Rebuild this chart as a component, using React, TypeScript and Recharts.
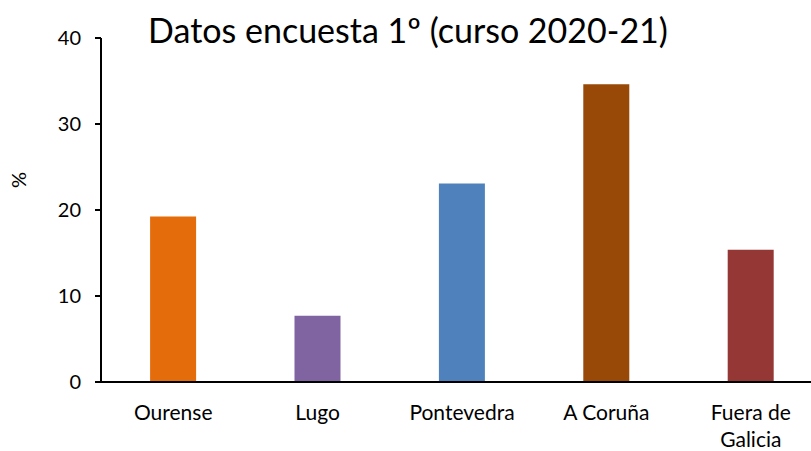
import { BarChart, Bar, XAxis, YAxis, Cell, Label } from "recharts";

const categories = ["Ourense", "Lugo", "Pontevedra", "A Coruña", "Fuera de Galicia"];
const percentages = [19.23, 7.69, 23.08, 34.62, 15.38];
const barColors = ["#E46C0A", "#8064A2", "#4F81BD", "#984807", "#953735"];
const yTicks = [0, 10, 20, 30, 40];

const data = categories.map((name, i) => ({ name, value: percentages[i] }));

const FONT = "Lato, 'Open Sans', sans-serif";

// greedy word wrap, ~10 chars per line like the original
function wrapLabel(label: string, max = 10) {
  const lines: string[] = [];
  let cur = "";
  for (const w of label.split(" ")) {
    const next = cur ? cur + " " + w : w;
    if (next.length > max && cur) {
      lines.push(cur);
      cur = w;
    } else {
      cur = next;
    }
  }
  if (cur) lines.push(cur);
  return lines;
}

function CategoryTick({ x, y, payload }: { x?: number; y?: number; payload?: { value: string } }) {
  const lines = wrapLabel(payload?.value ?? "");
  return (
    <text
      x={x}
      y={(y ?? 0) + 30}
      textAnchor="middle"
      fontSize={21}
      fontFamily={FONT}
      fill="#000"
    >
      {lines.map((l, i) => (
        <tspan key={i} x={x} dy={i === 0 ? 0 : 27}>
          {l}
        </tspan>
      ))}
    </text>
  );
}

function PercentLabel({ viewBox }: { viewBox?: { x: number; y: number; height: number } }) {
  const cx = 18;
  const cy = (viewBox?.y ?? 0) + (viewBox?.height ?? 0) / 2 - 30;
  return (
    <text
      x={cx}
      y={cy}
      transform={`rotate(-90 ${cx} ${cy})`}
      textAnchor="middle"
      dominantBaseline="central"
      fontSize={20}
      fontFamily={FONT}
      fill="#000"
    >
      %
    </text>
  );
}

export default function App() {
  return (
    <div
      style={{
        position: "absolute",
        left: 0,
        top: 0,
        width: 811,
        height: 451,
        overflow: "hidden",
        background: "#fff",
      }}
    >
      <div
        style={{
          position: "absolute",
          left: 0,
          width: 816,
          top: 10,
          textAlign: "center",
          fontFamily: FONT,
          fontSize: 34,
          lineHeight: "40px",
          color: "#000",
        }}
      >
        Datos encuesta 1º (curso 2020-21)
      </div>
      <BarChart
        width={830}
        height={451}
        data={data}
        margin={{ top: 38, right: 7, left: 0, bottom: 0 }}
        barCategoryGap="34%"
      >
        <YAxis
          width={101}
          domain={[0, 40]}
          ticks={yTicks}
          tickSize={6}
          tickMargin={14}
          axisLine={{ stroke: "#000", strokeWidth: 2 }}
          tickLine={{ stroke: "#000", strokeWidth: 2 }}
          tick={{ fill: "#000", fontSize: 20, fontFamily: FONT }}
        >
          <Label content={<PercentLabel />} />
        </YAxis>
        <XAxis
          dataKey="name"
          height={69}
          tickLine={false}
          axisLine={{ stroke: "#000", strokeWidth: 2 }}
          interval={0}
          tick={<CategoryTick />}
        />
        <Bar dataKey="value" isAnimationActive={false}>
          {data.map((d, i) => (
            <Cell key={d.name} fill={barColors[i]} />
          ))}
        </Bar>
      </BarChart>
    </div>
  );
}
